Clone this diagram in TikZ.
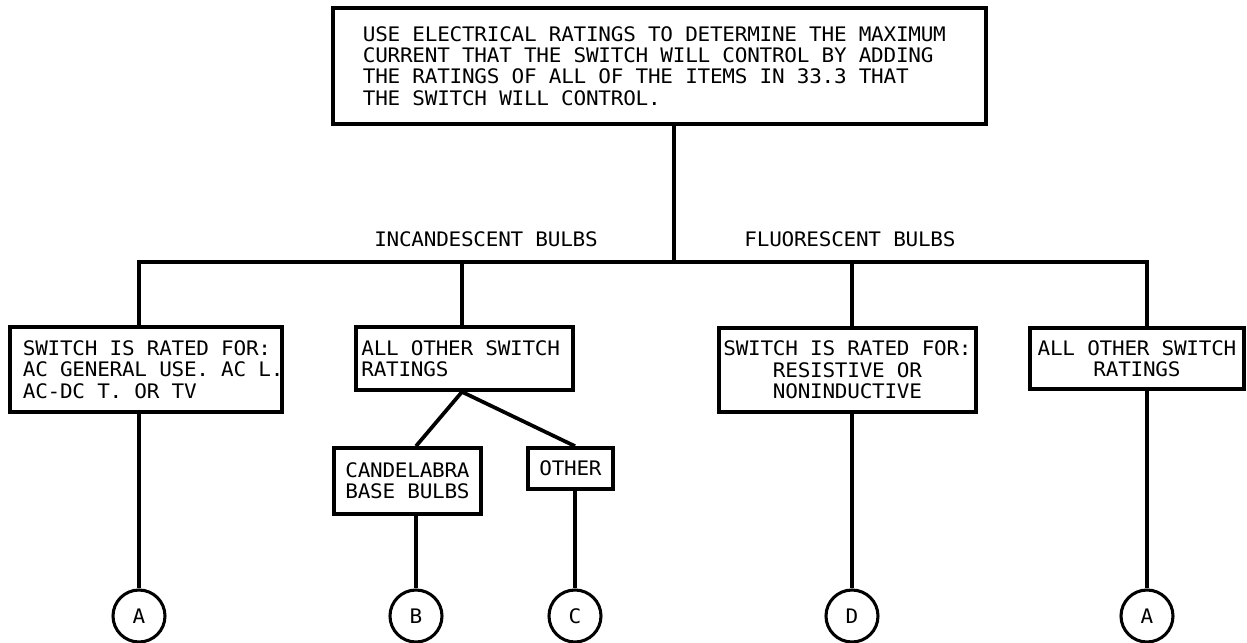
\documentclass[tikz,border=0pt]{standalone}
\usepackage{fontspec}
\newfontfamily\cadfont[FakeStretch=1.05]{DejaVu Sans Mono}
\ExplSyntaxOn
\NewDocumentCommand\cad{m}
  { \leavevmode \str_map_inline:nn {#1} { \hbox_to_wd:nn {9.3pt} { \hss ##1 \hss } } }
\ExplSyntaxOff
\begin{document}
\begin{tikzpicture}[x=0.75pt,y=-0.75pt,
  every node/.style={font=\cadfont\fontsize{15pt}{16pt}\selectfont},
  box/.style={draw, line width=2.8pt, inner sep=0pt},
  rnd/.style={draw, circle, line width=2.3pt, minimum size=39pt, inner sep=0pt},
  conn/.style={line width=2.8pt},
  lbl/.style={inner sep=0pt}]
\fill[white] (0,0) rectangle (1247,643);
\useasboundingbox (0,0) rectangle (1247,643);

\node[box, minimum width=489.75pt, minimum height=87pt, text width=444.75pt, align=left] (top) at (659.5,66)
  {\cad{USE ELECTRICAL RATINGS TO DETERMINE THE MAXIMUM}\\\cad{CURRENT THAT THE SWITCH WILL CONTROL BY ADDING}\\\cad{THE RATINGS OF ALL OF THE ITEMS IN 33.3 THAT}\\\cad{THE SWITCH WILL CONTROL.}};

\node[lbl] (inc) at (486,239) {\cad{INCANDESCENT BULBS}};
\node[lbl] (flu) at (850,239) {\cad{FLUORESCENT BULBS}};

\node[box, minimum width=204pt, minimum height=63.75pt, text width=184.5pt, align=left] (b1) at (146,369.5)
  {\cad{SWITCH IS RATED FOR:}\\\cad{AC GENERAL USE. AC L.}\\\cad{AC-DC T. OR TV}};
\node[box, minimum width=162.75pt, minimum height=47.25pt, text width=154.5pt, align=left] (b2) at (464.5,358.5)
  {\cad{ALL OTHER SWITCH}\\\cad{RATINGS}};
\node[box, minimum width=192.75pt, minimum height=63pt, align=center] (b3) at (847.5,370)
  {\cad{SWITCH IS RATED FOR:}\\\cad{RESISTIVE OR}\\\cad{NONINDUCTIVE}};
\node[box, minimum width=160.5pt, minimum height=45.75pt, align=center] (b4) at (1137,358.5)
  {\cad{ALL OTHER SWITCH}\\\cad{RATINGS}};
\node[box, minimum width=110.25pt, minimum height=49.5pt, align=center] (cand) at (407.5,481)
  {\cad{CANDELABRA}\\\cad{BASE BULBS}};
\node[box, minimum width=63.75pt, minimum height=30.75pt] (other) at (570.5,468.5) {\cad{OTHER}};

\node[rnd] (cA1) at (139,616) {\cad{A}};
\node[rnd] (cB) at (416,616) {\cad{B}};
\node[rnd] (cC) at (575,616) {\cad{C}};
\node[rnd] (cD) at (852,616) {\cad{D}};
\node[rnd] (cA2) at (1147,616) {\cad{A}};

\coordinate (J) at (674,262);
\coordinate (j2) at (462,262);

\draw[conn] (top.south -| J) -- (J);
\draw[conn] (cA1 |- b1.north) -- (cA1 |- J) -- (cA2 |- J) -- (cA2 |- b4.north);
\draw[conn] (cA1 |- b1.south) -- (cA1.north);
\draw[conn] (j2) -- (j2 |- b2.north);
\draw[conn] (j2 |- b2.south) -- (cand.north -| cB);
\draw[conn] (j2 |- b2.south) -- (other.north -| cC);
\draw[conn] (cB |- cand.south) -- (cB.north);
\draw[conn] (cC |- other.south) -- (cC.north);
\draw[conn] (cD |- J) -- (cD |- b3.north);
\draw[conn] (cD |- b3.south) -- (cD.north);
\draw[conn] (cA2 |- b4.south) -- (cA2.north);
\end{tikzpicture}
\end{document}
